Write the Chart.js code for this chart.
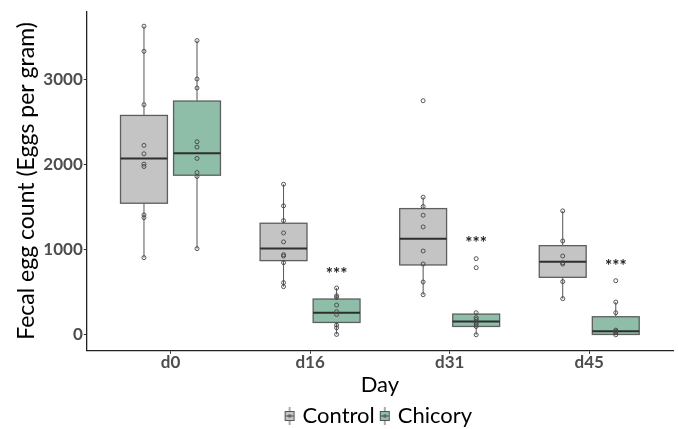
<!DOCTYPE html>
<html>
<head>
<meta charset="utf-8">
<script src="https://cdn.jsdelivr.net/npm/chart.js@4.4.1/dist/chart.umd.min.js"></script>
<style>
  body { margin: 0; background: #fff; }
  #wrap { width: 678px; height: 429px; }
</style>
</head>
<body>
<div id="wrap"><canvas id="eggChart"></canvas></div>
<script>
// Categories and tick labels
const days = ['d0', 'd16', 'd31', 'd45'];
const yTicks = [0, 1000, 2000, 3000];

// Individual animals (eggs per gram)
const controlPoints = [
    [3624, 3329, 2702, 2224, 2126, 2004, 1976, 1408, 1376, 906],
    [1768, 1514, 1341, 1196, 1091, 941, 925, 847, 612, 565],
    [2749, 1616, 1506, 1404, 1267, 984, 831, 620, 471],
    [1455, 1102, 925, 847, 831, 624, 424]
];
const chicoryPoints = [
    [3455, 3004, 2898, 2267, 2204, 2071, 1906, 1859, 1012],
    [549, 459, 439, 349, 271, 239, 114, 82, 4],
    [894, 788, 259, 200, 180, 150, 126, 98, 0],
    [635, 384, 259, 55, 40, 25, 0]
];

// Box statistics per day
const controlLow = [906, 565, 471, 424];
const controlQ1 = [1545, 871, 820, 675];
const controlMedian = [2071, 1012, 1129, 859];
const controlQ3 = [2576, 1310, 1482, 1047];
const controlHigh = [3624, 1768, 1616, 1455];

const chicoryLow = [1012, 4, 0, 0];
const chicoryQ1 = [1874, 145, 98, 4];
const chicoryMedian = [2133, 259, 157, 43];
const chicoryQ3 = [2745, 420, 243, 212];
const chicoryHigh = [3455, 549, 259, 384];

// Significance marks (above chicory box)
const starLevel = [null, 740, 1102, 839];
const starText = '***';

const DODGE = 0.19;     // group offset from the day centre
const BOX_HALF = 0.168; // half box width in axis units
const greyFill = '#c4c4c4';
const greenFill = '#8fbea8';

const groups = [
    { label: 'Control', fill: greyFill, offset: -DODGE, points: controlPoints,
      low: controlLow, q1: controlQ1, med: controlMedian, q3: controlQ3, high: controlHigh },
    { label: 'Chicory', fill: greenFill, offset: DODGE, points: chicoryPoints,
      low: chicoryLow, q1: chicoryQ1, med: chicoryMedian, q3: chicoryQ3, high: chicoryHigh }
];

// scatter data for the dots
function toScatter(g) {
    const out = [];
    g.points.forEach((vals, i) => {
        vals.forEach(v => out.push({ x: i + 1 + g.offset, y: v }));
    });
    return out;
}

// small boxplot glyph for the legend
function legendGlyph(fill) {
    const c = document.createElement('canvas');
    c.width = 12; c.height = 20;
    const g = c.getContext('2d');
    g.strokeStyle = '#555';
    g.lineWidth = 1;
    g.beginPath(); g.moveTo(6, 1); g.lineTo(6, 19); g.stroke();
    g.fillStyle = fill;
    g.fillRect(1.5, 5.5, 9, 9);
    g.strokeRect(1.5, 5.5, 9, 9);
    g.beginPath(); g.moveTo(1.5, 10); g.lineTo(10.5, 10); g.stroke();
    g.beginPath(); g.arc(6, 10, 1.3, 0, Math.PI * 2); g.stroke();
    return c;
}

const boxPlugin = {
    id: 'boxes',
    beforeDatasetsDraw(chart) {
        const ctx = chart.ctx;
        const x = chart.scales.x, y = chart.scales.y;
        ctx.save();
        groups.forEach(g => {
            g.q1.forEach((q1, i) => {
                const c = i + 1 + g.offset;
                const cx = x.getPixelForValue(c);
                const left = x.getPixelForValue(c - BOX_HALF);
                const right = x.getPixelForValue(c + BOX_HALF);
                const yq1 = y.getPixelForValue(q1);
                const yq3 = y.getPixelForValue(g.q3[i]);
                // whiskers
                ctx.strokeStyle = '#555';
                ctx.lineWidth = 1;
                ctx.beginPath();
                ctx.moveTo(cx, y.getPixelForValue(g.high[i])); ctx.lineTo(cx, yq3);
                ctx.moveTo(cx, yq1); ctx.lineTo(cx, y.getPixelForValue(g.low[i]));
                ctx.stroke();
                // box
                ctx.fillStyle = g.fill;
                ctx.fillRect(left, yq3, right - left, yq1 - yq3);
                ctx.strokeStyle = '#5e5e5e';
                ctx.lineWidth = 1.3;
                ctx.strokeRect(left, yq3, right - left, yq1 - yq3);
                // median
                const ym = y.getPixelForValue(g.med[i]);
                ctx.strokeStyle = '#2e2e2e';
                ctx.lineWidth = 2;
                ctx.beginPath(); ctx.moveTo(left, ym); ctx.lineTo(right, ym); ctx.stroke();
            });
        });
        ctx.restore();
    },
    afterDatasetsDraw(chart) {
        const ctx = chart.ctx;
        const x = chart.scales.x, y = chart.scales.y;
        ctx.save();
        ctx.fillStyle = '#222';
        ctx.font = 'bold 17px Lato';
        ctx.textAlign = 'center';
        ctx.textBaseline = 'middle';
        starLevel.forEach((v, i) => {
            if (v === null) return;
            ctx.fillText(starText, x.getPixelForValue(i + 1 + DODGE), y.getPixelForValue(v) + 3);
        });
        ctx.restore();
    }
};

const ctx = document.getElementById('eggChart').getContext('2d');
new Chart(ctx, {
    type: 'scatter',
    data: {
        datasets: groups.map(g => ({
            label: g.label,
            data: toScatter(g),
            pointRadius: 2,
            pointBorderWidth: 0.9,
            pointBorderColor: '#444',
            pointBackgroundColor: 'rgba(0,0,0,0)'
        }))
    },
    options: {
        responsive: true,
        maintainAspectRatio: false,
        animation: false,
        layout: { padding: { left: 14, right: 5, top: 10, bottom: -8 } },
        plugins: {
            tooltip: { enabled: false },
            legend: {
                position: 'bottom',
                fullSize: false,
                labels: {
                    usePointStyle: true,
                    pointStyleWidth: 4,
                    padding: 8,
                    color: '#000',
                    font: { family: 'Lato', size: 22 },
                    generateLabels: () => groups.map((g, i) => ({
                        text: g.label,
                        pointStyle: legendGlyph(g.fill),
                        fillStyle: g.fill,
                        strokeStyle: '#555',
                        lineWidth: 0,
                        hidden: false,
                        datasetIndex: i
                    }))
                },
                onClick: null
            }
        },
        scales: {
            x: {
                type: 'linear',
                min: 0.4,
                max: 4.6,
                afterBuildTicks: axis => { axis.ticks = days.map((d, i) => ({ value: i + 1 })); },
                ticks: {
                    callback: v => days[v - 1],
                    color: '#4d4d4d',
                    font: { family: 'Lato', size: 17, weight: 'bold', lineHeight: 1 },
                    padding: 0
                },
                grid: { drawOnChartArea: false, tickLength: 3, color: '#333' },
                border: { color: '#222', width: 1.3 },
                title: {
                    display: true,
                    text: 'Day',
                    color: '#000',
                    font: { family: 'Lato', size: 22, lineHeight: 1.1 },
                    padding: { top: 2, bottom: 0 }
                }
            },
            y: {
                min: -188,
                max: 3800,
                afterBuildTicks: axis => { axis.ticks = yTicks.map(v => ({ value: v })); },
                ticks: {
                    callback: v => String(v),
                    color: '#4d4d4d',
                    font: { family: 'Lato', size: 17, weight: 'bold' },
                    padding: 1
                },
                grid: { drawOnChartArea: false, tickLength: 3, color: '#333' },
                border: { color: '#222', width: 1.3 },
                title: {
                    display: true,
                    text: 'Fecal egg count (Eggs per gram)',
                    color: '#000',
                    font: { family: 'Lato', size: 23, lineHeight: 1.1 },
                    padding: { top: 0, bottom: 3 }
                }
            }
        }
    },
    plugins: [boxPlugin]
});
</script>
</body>
</html>
